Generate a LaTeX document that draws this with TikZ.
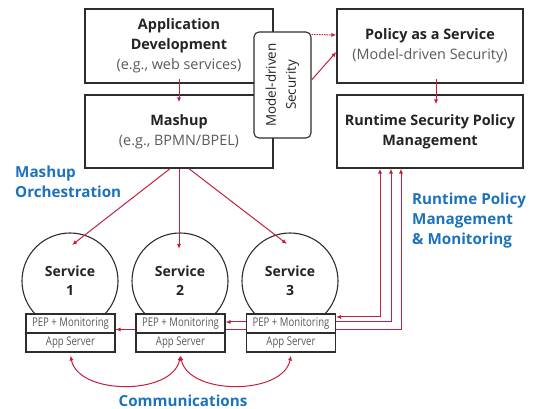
\documentclass[tikz,border=0pt]{standalone}
\usepackage{fontspec}
\setmainfont{Open Sans}
\newfontfamily\condfont[FakeStretch=0.8]{Open Sans}
\usetikzlibrary{arrows.meta,calc,backgrounds}

\definecolor{linkred}{RGB}{196,32,60}
\definecolor{labelblue}{RGB}{28,114,188}
\definecolor{framegray}{RGB}{45,45,45}
\definecolor{subgray}{RGB}{90,90,90}
\definecolor{textdark}{RGB}{35,35,35}

\newcommand{\subtext}[1]{{\mdseries\color{subgray}#1}}

\tikzset{
  box/.style={draw=framegray, line width=1.4pt, fill=white, align=center,
    inner sep=0pt, text=textdark,
    font=\fontsize{14.4}{20}\selectfont\bfseries},
  mdsbox/.style={draw=framegray, line width=1.1pt, fill=white,
    rounded corners=5pt, inner sep=0pt},
  svc/.style={draw=framegray, line width=1.1pt, circle, minimum size=96pt,
    inner sep=0pt, align=center, text=textdark,
    font=\fontsize{14}{19}\selectfont\bfseries},
  pepbox/.style={draw=framegray, line width=1.1pt, fill=white,
    minimum width=89pt, minimum height=19pt, inner sep=0pt,
    text=subgray, font=\fontsize{12}{13}\selectfont\condfont},
  bluelab/.style={text=labelblue, align=left, inner sep=0pt,
    font=\fontsize{15.2}{20}\selectfont\bfseries},
  tip/.style={-{Latex[length=5pt,width=4.2pt]}},
  redarrow/.style={draw=linkred, line width=1pt, tip},
  bidir/.style={draw=linkred, line width=1pt,
    {Latex[length=5pt,width=4.2pt]}-{Latex[length=5pt,width=4.2pt]}},
  dotarrow/.style={redarrow, dash pattern=on 1.5pt off 1pt},
}

\begin{document}
\begin{tikzpicture}[x=1pt,y=-1pt]
\useasboundingbox (0,0) rectangle (539,409);

% design-time boxes
\node[box, minimum width=188pt, minimum height=74pt] (appdev) at (179,46)
  {Application\\Development\\\subtext{(e.g., web services)}};
\node[box, minimum width=188pt, minimum height=73pt] (mashup) at (179,131.5)
  {Mashup\\\subtext{(e.g., BPMN/BPEL)}};
\node[box, minimum width=186pt, minimum height=74pt] (policy) at (430,46)
  {Policy as a Service\\\subtext{(Model-driven Security)}};
\node[box, minimum width=186pt, minimum height=73pt] (runtime) at (430,131.5)
  {Runtime Security Policy\\Management};

% model-driven security tab overlapping the left column
\node[mdsbox, minimum width=57pt, minimum height=106pt] (mds) at (282.5,85) {};
\node[rotate=90, align=center, inner sep=0pt, text=textdark,
  font=\fontsize{13.4}{20}\selectfont] (mdslabel) at (mds.center)
  {Model-driven\\Security};

% services
\node[svc] (svc1) at (70,281) {Service\\1};
\node[svc] (svc2) at (180,281) {Service\\2};
\node[svc] (svc3) at (290,281) {Service\\3};

\node[pepbox] (pep1) at (70.5,323.5) {PEP + Monitoring};
\node[pepbox] (app1) at (70.5,342.5) {App Server};
\node[pepbox] (pep2) at (180.5,323.5) {PEP + Monitoring};
\node[pepbox] (app2) at (180.5,342.5) {App Server};
\node[pepbox] (pep3) at (291,323.5) {PEP + Monitoring};
\node[pepbox] (app3) at (291,342.5) {App Server};

% labels
\node[bluelab, anchor=west] (orch) at (15,182) {Mashup\\Orchestration};
\node[bluelab, anchor=west] (rpm) at (412,221)
  {Runtime Policy\\Management\\\& Monitoring};
\node[bluelab] (comm) at (183,401) {Communications};

% design-time flow
\draw[redarrow] ([yshift=5pt]appdev.south) -- ([yshift=-8pt]mashup.north);
\draw[redarrow] ([xshift=6pt,yshift=5pt]policy.south) -- ([xshift=6pt,yshift=-10pt]runtime.north);
\draw[dotarrow] ([yshift=-3pt]mds.north east) -- ([yshift=11pt]policy.west);
\draw[redarrow] ([yshift=5pt]mds.east) -- ([yshift=-6pt]policy.west);

% orchestration
\draw[redarrow] ([xshift=-9pt]mashup.south) -- ($(svc1)+(2,-36)$);
\draw[redarrow] (mashup.south) -- ($(svc2)+(-1,-32)$);
\draw[redarrow] ([xshift=10pt]mashup.south) -- ($(svc3)+(-3,-37)$);

% runtime policy management, routed behind the PEP boxes
\begin{pgfonlayer}{background}
\draw[bidir] ([yshift=6.5pt]pep3.east) -| ([xshift=-50pt]runtime.south);
\draw[bidir] ([yshift=1.5pt]pep2.east) -| ([xshift=-39pt]runtime.south);
\draw[bidir] ([yshift=-6pt]pep1.east) -| ([xshift=-29pt]runtime.south);
\end{pgfonlayer}

% communications between app servers
\draw[bidir] ([yshift=-3pt]app2.south) .. controls +(-8,40) and +(8,40) .. ([yshift=-3pt]app1.south);
\draw[bidir] ([yshift=-3pt]app2.south) .. controls +(8,40) and +(-8,40) .. ([yshift=-3pt]app3.south);
\end{tikzpicture}
\end{document}
